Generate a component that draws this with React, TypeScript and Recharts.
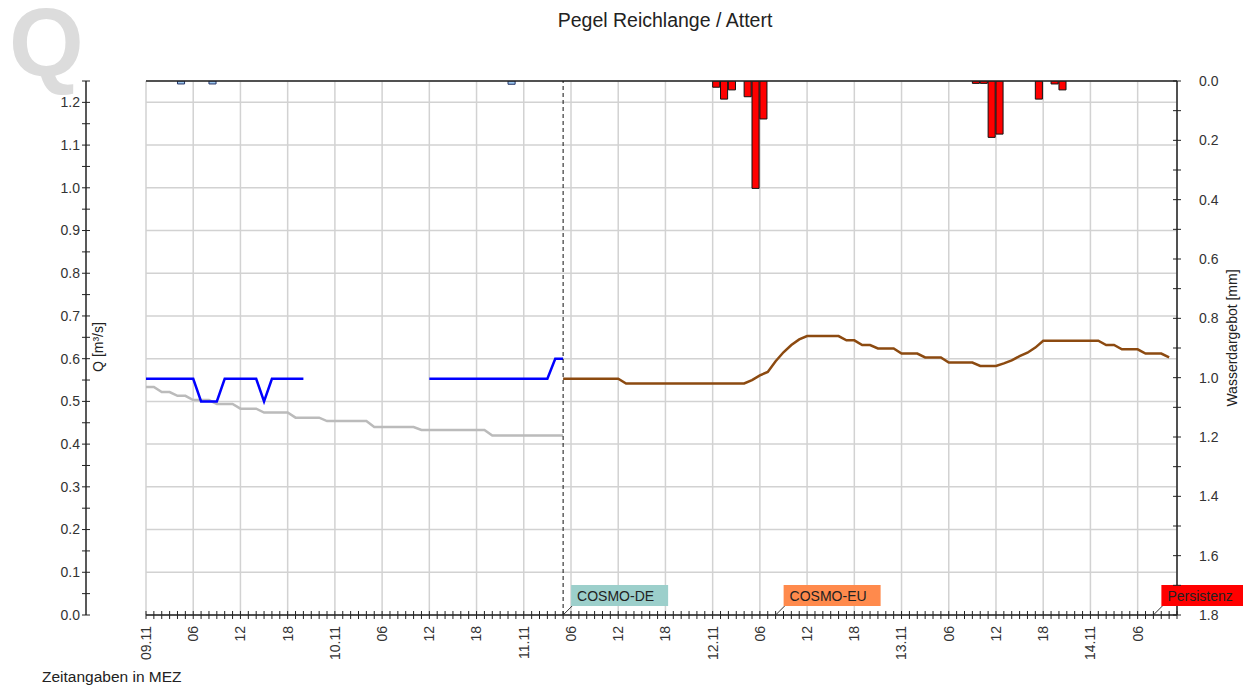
import React from 'react';
import {
  ComposedChart,
  Line,
  Bar,
  XAxis,
  YAxis,
  CartesianGrid,
  ReferenceLine,
  ReferenceDot,
} from 'recharts';

// time axis: hours since 09.11 00:00 MEZ
const dayLabels = ['09.11', '10.11', '11.11', '12.11', '13.11', '14.11'];
const hourLabels = ['06', '12', '18'];
const lastHour = 131;

// observed discharge Q [m³/s], hourly from 09.11 00:00
const observedQ = [
  0.553, 0.553, 0.553, 0.553, 0.553, 0.553, 0.553, 0.5, 0.5, 0.5,
  0.553, 0.553, 0.553, 0.553, 0.553, 0.5, 0.553, 0.553, 0.553, 0.553,
  0.553, null, null, null, null, null, null, null, null, null,
  null, null, null, null, null, null, 0.553, 0.553, 0.553, 0.553,
  0.553, 0.553, 0.553, 0.553, 0.553, 0.553, 0.553, 0.553, 0.553, 0.553,
  0.553, 0.553, 0.6, 0.6,
];

// grey reference curve, hourly from 09.11 00:00
const referenceQ = [
  0.534, 0.534, 0.522, 0.522, 0.513, 0.513, 0.503, 0.503, 0.503, 0.494,
  0.494, 0.494, 0.483, 0.483, 0.483, 0.474, 0.474, 0.474, 0.474, 0.462,
  0.462, 0.462, 0.462, 0.454, 0.454, 0.454, 0.454, 0.454, 0.454, 0.44,
  0.44, 0.44, 0.44, 0.44, 0.44, 0.433, 0.433, 0.433, 0.433, 0.433,
  0.433, 0.433, 0.433, 0.433, 0.42, 0.42, 0.42, 0.42, 0.42, 0.42,
  0.42, 0.42, 0.42, 0.42,
];

// forecast, hourly from forecastStart
const forecastStart = 53;
const forecastQ = [
  0.553, 0.553, 0.553, 0.553, 0.553, 0.553, 0.553, 0.553, 0.542, 0.542,
  0.542, 0.542, 0.542, 0.542, 0.542, 0.542, 0.542, 0.542, 0.542, 0.542,
  0.542, 0.542, 0.542, 0.542, 0.55, 0.561, 0.569, 0.594, 0.615, 0.632,
  0.645, 0.653, 0.653, 0.653, 0.653, 0.653, 0.643, 0.643, 0.632, 0.632,
  0.624, 0.624, 0.624, 0.612, 0.612, 0.612, 0.603, 0.603, 0.603, 0.591,
  0.591, 0.591, 0.591, 0.583, 0.583, 0.583, 0.589, 0.596, 0.606, 0.614,
  0.626, 0.642, 0.642, 0.642, 0.642, 0.642, 0.642, 0.642, 0.642, 0.632,
  0.632, 0.622, 0.622, 0.622, 0.612, 0.612, 0.612, 0.603,
];

// hourly water supply [mm]: [hour bin start, mm]
const observedRain: [number, number][] = [
  [4, 0.01],
  [8, 0.01],
  [46, 0.011],
];
const forecastRain: [number, number][] = [
  [72, 0.021], [73, 0.061], [74, 0.03], [76, 0.053], [77, 0.362], [78, 0.128],
  [105, 0.008], [106, 0.008], [107, 0.19], [108, 0.179],
  [113, 0.061], [115, 0.01], [116, 0.03],
];

// model runs marked on the time axis
const runNames = ['COSMO-DE', 'COSMO-EU', 'Persistenz'];
const runHours = [53, 80, 128];

const leftTicks = [
  0, 0.05, 0.1, 0.15, 0.2, 0.25, 0.3, 0.35, 0.4, 0.45, 0.5, 0.55, 0.6,
  0.65, 0.7, 0.75, 0.8, 0.85, 0.9, 0.95, 1.0, 1.05, 1.1, 1.15, 1.2, 1.25,
];
const gridQ = [0.1, 0.2, 0.3, 0.4, 0.5, 0.6, 0.7, 0.8, 0.9, 1.0, 1.1, 1.2];
const rightTicks = [
  0, 0.1, 0.2, 0.3, 0.4, 0.5, 0.6, 0.7, 0.8, 0.9, 1.0, 1.1, 1.2, 1.3, 1.4,
  1.5, 1.6, 1.7, 1.8,
];

const hours = Array.from({ length: lastHour + 1 }, (_, h) => h);
const gridHours = hours.filter((h) => h % 6 === 0 && h > 0);

const data = hours.map((h) => {
  const obsRain = observedRain.find((r) => r[0] === h);
  const fcRain = forecastRain.find((r) => r[0] === h);
  const fc = h >= forecastStart ? forecastQ[h - forecastStart] : undefined;
  return {
    h,
    observed: h < observedQ.length ? observedQ[h] : null,
    reference: h < referenceQ.length ? referenceQ[h] : null,
    forecast: fc === undefined ? null : fc,
    obsRain: obsRain ? obsRain[1] : null,
    fcRain: fcRain ? fcRain[1] : null,
  };
});

const FONT = '"Liberation Sans", Arial, Helvetica, sans-serif';
const runColors = ['#9ccfcb', '#ff8a4c', '#ff0000'];

function LeftTick({ x, y, payload }: any) {
  const v = payload.value;
  const major = Math.round(v * 100) % 10 === 0;
  return (
    <g>
      <line x1={x - 4} x2={x + 4} y1={y} y2={y} stroke="#222" />
      {major && (
        <text x={x - 6} y={y} dy="0.35em" textAnchor="end" fontSize={14} fill="#333" fontFamily={FONT}>
          {v.toFixed(1)}
        </text>
      )}
    </g>
  );
}

function RightTick({ x, y, payload }: any) {
  const v = payload.value;
  const major = Math.round(v * 10) % 2 === 0;
  return (
    <g>
      <line x1={x - 4} x2={x + 4} y1={y} y2={y} stroke="#222" />
      {major && (
        <text x={x + 22} y={y} dy="0.35em" textAnchor="start" fontSize={14} fill="#333" fontFamily={FONT}>
          {v.toFixed(1)}
        </text>
      )}
    </g>
  );
}

function TimeTick({ x, y, payload }: any) {
  const h = payload.value;
  let label: string | null = null;
  if (h % 24 === 0) label = dayLabels[h / 24];
  else if (h % 6 === 0) label = hourLabels[(h % 24) / 6 - 1];
  return (
    <g>
      <line x1={x} x2={x} y1={y - 4} y2={y + 4} stroke="#222" />
      {label && (
        <text
          transform={`translate(${x},${y + 11}) rotate(-90)`}
          textAnchor="end"
          dy="0.35em"
          fontSize={14}
          fill="#333"
          fontFamily={FONT}
        >
          {label}
        </text>
      )}
    </g>
  );
}

function runMarker(name: string, fill: string) {
  return ({ cx, cy }: any) => (
    <g>
      <line x1={cx} y1={cy} x2={cx + 9} y2={cy - 9} stroke="#333" />
      <rect x={cx + 8} y={cy - 30} width={97} height={21} fill={fill} />
      <text x={cx + 14} y={cy - 14} fontSize={14} fill="#222" fontFamily={FONT}>
        {name}
      </text>
    </g>
  );
}

const textStyle: React.CSSProperties = {
  position: 'absolute',
  fontFamily: FONT,
  color: '#222',
  whiteSpace: 'nowrap',
  lineHeight: 1,
};

export default function App() {
  return (
    <div style={{ position: 'absolute', left: 0, top: 0, width: 1243, height: 686, background: '#fff', overflow: 'hidden' }}>
      <div style={{ ...textStyle, left: 9, top: 0, fontSize: 96, lineHeight: '86px', fontWeight: 700, color: '#dcdcdc' }}>Q</div>
      <div style={{ ...textStyle, left: 665, top: 11, fontSize: 19.5, transform: 'translateX(-50%)' }}>
        Pegel Reichlange / Attert
      </div>
      <div style={{ ...textStyle, left: 98, top: 347, fontSize: 14, transform: 'translate(-50%,-50%) rotate(-90deg)' }}>
        Q [m³/s]
      </div>
      <div style={{ ...textStyle, left: 1232, top: 338, fontSize: 14, transform: 'translate(-50%,-50%) rotate(-90deg)' }}>
        Wasserdargebot [mm]
      </div>
      <div style={{ ...textStyle, left: 42, top: 669, fontSize: 15.5 }}>Zeitangaben in MEZ</div>

      <div style={{ position: 'absolute', left: 0, top: 0 }}>
        <ComposedChart width={1243} height={686} data={data} margin={{ top: 81, right: 0, bottom: 0, left: 0 }}>
          <XAxis xAxisId="gridx" type="number" dataKey="h" domain={[0, lastHour]} ticks={gridHours} allowDataOverflow hide />
          <YAxis yAxisId="gridy" type="number" domain={[0, 1.25]} ticks={gridQ} allowDataOverflow hide />
          <CartesianGrid xAxisId="gridx" yAxisId="gridy" stroke="#d2d2d2" strokeWidth={1.5} />

          <XAxis
            dataKey="h"
            type="number"
            domain={[0, lastHour]}
            ticks={hours}
            interval={0}
            allowDataOverflow
            height={71}
            tickSize={0}
            tickMargin={0}
            tickLine={false}
            axisLine={{ stroke: '#222', strokeWidth: 1.5 }}
            tick={<TimeTick />}
          />
          <XAxis xAxisId="bins" dataKey="h" type="number" domain={[-0.5, lastHour - 0.5]} allowDataOverflow hide />
          <YAxis
            yAxisId="left"
            type="number"
            domain={[0, 1.25]}
            ticks={leftTicks}
            interval={0}
            allowDataOverflow
            width={146}
            tickSize={0}
            tickMargin={0}
            tickLine={false}
            axisLine={{ stroke: '#222', strokeWidth: 1.5 }}
            tick={<LeftTick />}
          />
          <YAxis
            yAxisId="right"
            orientation="right"
            type="number"
            domain={[0, 1.8]}
            reversed
            ticks={rightTicks}
            interval={0}
            allowDataOverflow
            width={66}
            tickSize={0}
            tickMargin={0}
            tickLine={false}
            axisLine={{ stroke: '#222', strokeWidth: 1.5 }}
            tick={<RightTick />}
          />

          <ReferenceLine yAxisId="left" y={1.25} stroke="#222" strokeWidth={1.5} />

          <Bar
            xAxisId="bins"
            yAxisId="right"
            dataKey="obsRain"
            stackId="rain"
            barSize={8}
            fill="#9cc8f0"
            stroke="#223366"
            strokeWidth={1}
            isAnimationActive={false}
          />
          <Bar
            xAxisId="bins"
            yAxisId="right"
            dataKey="fcRain"
            stackId="rain"
            barSize={8}
            fill="#ff0000"
            stroke="#111"
            strokeWidth={1}
            isAnimationActive={false}
          />

          <Line yAxisId="left" dataKey="reference" stroke="#bbbbbb" strokeWidth={2.5} dot={false} isAnimationActive={false} />
          <Line yAxisId="left" dataKey="observed" stroke="#0000ff" strokeWidth={2.5} dot={false} isAnimationActive={false} />
          <Line yAxisId="left" dataKey="forecast" stroke="#8c4a10" strokeWidth={2.5} dot={false} isAnimationActive={false} />

          <ReferenceLine yAxisId="left" x={forecastStart} stroke="#111" strokeDasharray="4 3" />
          {runNames.map((name, i) => (
            <ReferenceDot
              key={name}
              yAxisId="left"
              x={runHours[i]}
              y={0}
              ifOverflow="visible"
              shape={runMarker(name, runColors[i])}
            />
          ))}
        </ComposedChart>
      </div>
    </div>
  );
}
